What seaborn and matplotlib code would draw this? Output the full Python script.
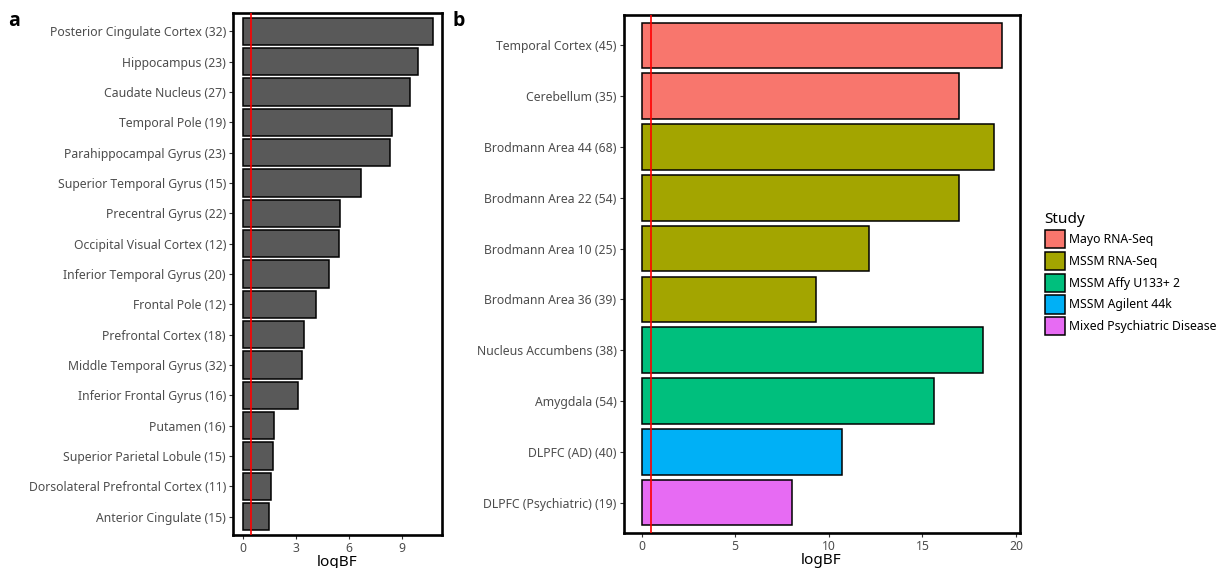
import matplotlib
matplotlib.use("Agg")
import matplotlib.pyplot as plt
import matplotlib.patches as mpatches
import seaborn as sns
import pandas as pd

# ---- data panel a ----
regions_a = [
    "Posterior Cingulate Cortex (32)", "Hippocampus (23)", "Caudate Nucleus (27)",
    "Temporal Pole (19)", "Parahippocampal Gyrus (23)", "Superior Temporal Gyrus (15)",
    "Precentral Gyrus (22)", "Occipital Visual Cortex (12)", "Inferior Temporal Gyrus (20)",
    "Frontal Pole (12)", "Prefrontal Cortex (18)", "Middle Temporal Gyrus (32)",
    "Inferior Frontal Gyrus (16)", "Putamen (16)", "Superior Parietal Lobule (15)",
    "Dorsolateral Prefrontal Cortex (11)", "Anterior Cingulate (15)",
]
logbf_a = [10.71, 9.89, 9.42, 8.41, 8.34, 6.67, 5.50, 5.46, 4.88,
           4.15, 3.48, 3.35, 3.14, 1.78, 1.72, 1.63, 1.50]

# ---- data panel b ----
regions_b = [
    "Temporal Cortex (45)", "Cerebellum (35)", "Brodmann Area 44 (68)",
    "Brodmann Area 22 (54)", "Brodmann Area 10 (25)", "Brodmann Area 36 (39)",
    "Nucleus Accumbens (38)", "Amygdala (54)", "DLPFC (AD) (40)",
    "DLPFC (Psychiatric) (19)",
]
logbf_b = [19.22, 16.94, 18.83, 16.94, 12.14, 9.32, 18.24, 15.64, 10.73, 8.06]
study_b = ["Mayo RNA-Seq", "Mayo RNA-Seq", "MSSM RNA-Seq", "MSSM RNA-Seq",
           "MSSM RNA-Seq", "MSSM RNA-Seq", "MSSM Affy U133+ 2", "MSSM Affy U133+ 2",
           "MSSM Agilent 44k", "Mixed Psychiatric Disease"]
studies = ["Mayo RNA-Seq", "MSSM RNA-Seq", "MSSM Affy U133+ 2",
           "MSSM Agilent 44k", "Mixed Psychiatric Disease"]
study_colors = ["#F8766D", "#A3A500", "#00BF7D", "#00B0F6", "#E76BF3"]
threshold = 0.5

sns.set_theme(style="white")
plt.rcParams['font.family'] = ['Noto Sans', 'DejaVu Sans']

fig = plt.figure(figsize=(12.25, 5.68), dpi=100)
ax_a = fig.add_axes([233/1225, 1-535/568, (442-233)/1225, (535-13)/568])
ax_b = fig.add_axes([623.5/1225, 1-533/568, (1019.5-623.5)/1225, (533-15)/568])

df_a = pd.DataFrame({"region": regions_a, "logBF": logbf_a})
sns.barplot(data=df_a, y="region", x="logBF", order=regions_a, color="#595959",
            saturation=1, width=0.9, edgecolor="black", linewidth=1.1, ax=ax_a)

df_b = pd.DataFrame({"region": regions_b, "logBF": logbf_b, "Study": study_b})
sns.barplot(data=df_b, y="region", x="logBF", hue="Study", hue_order=studies,
            order=regions_b, palette=study_colors, saturation=1, dodge=False,
            width=0.9, edgecolor="black", linewidth=1.1, ax=ax_b, legend=False)

for ax, n, vmax, ticks in [(ax_a, len(regions_a), max(logbf_a), [0, 3, 6, 9]),
                           (ax_b, len(regions_b), max(logbf_b), [0, 5, 10, 15, 20])]:
    ax.axvline(threshold, color="red", lw=1.2, zorder=5)
    ax.set_ylim(n - 0.4, -0.6)
    ax.set_xlim(-0.05 * vmax, vmax * 1.05)
    ax.set_xticks(ticks)
    ax.set_xticklabels([str(t) for t in ticks])
    ax.set_ylabel("")
    ax.set_xlabel("logBF", fontsize=11, color="black", labelpad=0)
    ax.tick_params(axis="both", length=3, width=0.8, color="#333333",
                   labelcolor="#4D4D4D", labelsize=8.8, pad=2, left=True, bottom=True)
    for s in ax.spines.values():
        s.set_visible(True)
        s.set_color("black")
        s.set_linewidth(1.9)

handles = [mpatches.Patch(facecolor=c, edgecolor="black", linewidth=1.1, label=s)
           for s, c in zip(studies, study_colors)]
leg = fig.legend(handles=handles, title="Study", loc="upper left",
                 bbox_to_anchor=(1036/1225, 1-203/568), frameon=False,
                 fontsize=8.8, title_fontsize=11, handlelength=1.64, handleheight=1.9,
                 handletextpad=0.4, labelspacing=0.3, borderpad=0.2, alignment="left",
                 labelcolor="black")
leg.get_title().set_color("black")

for x, lab in [(8, "a"), (452, "b")]:
    fig.text(x/1225, 1-26/568, lab, fontsize=14, fontweight="bold", color="black",
             family=["Open Sans", "DejaVu Sans"])

fig.savefig("out.png", dpi=100)
